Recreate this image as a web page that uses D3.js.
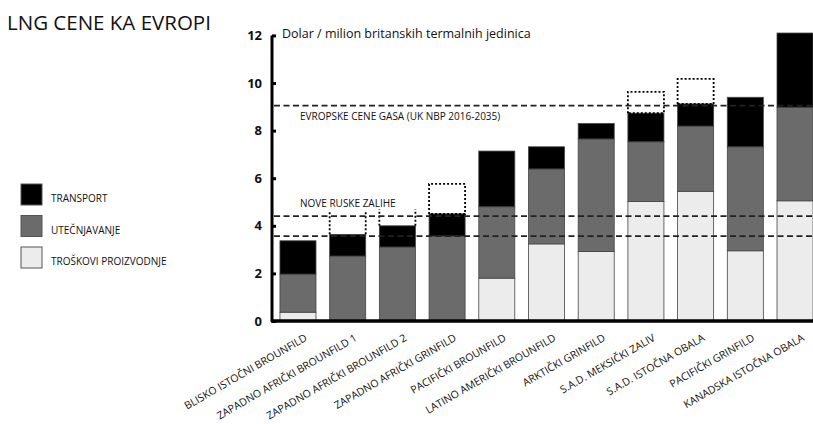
<!DOCTYPE html>
<html>
<head>
<meta charset="utf-8">
<script src="https://cdn.jsdelivr.net/npm/d3@7"></script>
<style>
  body { margin: 0; background: #fff; }
  text { font-family: "Open Sans", sans-serif; fill: #111; }
</style>
</head>
<body>
<div id="chart"></div>
<script>
var width = 813;
var height = 424;

// categories and the three cost components (dollars per MMBtu)
var categories = ["BLISKO  ISTOČNI BROUNFILD", "ZAPADNO AFRIČKI BROUNFILD 1", "ZAPADNO AFRIČKI BROUNFILD 2",
  "ZAPADNO AFRIČKI GRINFILD", "PACIFIČKI BROUNFILD", "LATINO AMERIČKI BROUNFILD", "ARKTIČKI GRINFILD",
  "S.A.D. MEKSIČKI ZALIV", "S.A.D. ISTOČNA OBALA", "PACIFIČKI GRINFILD", "KANADSKA ISTOČNA OBALA"];
var production   = [0.37, 0,    0,    0,    1.8,  3.24, 2.92, 5.02, 5.45, 2.95, 5.05];
var liquefaction = [1.6,  2.73, 3.11, 3.57, 3.0,  3.15, 4.73, 2.51, 2.74, 4.37, 3.93];
var transport    = [1.4,  0.91, 0.89, 0.93, 2.34, 0.93, 0.65, 1.2,  0.93, 2.08, 3.12];
// dotted range above some bars (upper value), and whether the box has a top edge
var rangeTop    = [null, 4.65, 4.7,  5.76, null, null, null, 9.63, 10.17, null, null];
var rangeClosed = [false, false, false, true, false, false, false, true, true, false, false];

var yTicks = [0, 2, 4, 6, 8, 10, 12];
var refLines = [
  {value: 9.05, label: "EVROPSKE CENE GASA (UK NBP 2016-2035)", labelValue: 8.45},
  {value: 4.41, label: "NOVE RUSKE ZALIHE", labelValue: 4.8},
  {value: 3.57, label: null}
];
var seriesNames = ["TRANSPORT", "UTEČNJAVANJE", "TROŠKOVI PROIZVODNJE"];
var seriesColors = {production: "#ececec", liquefaction: "#6b6b6b", transport: "#000"};

var svg = d3.select("#chart").append("svg")
  .attr("width", width)
  .attr("height", height);

var x = d3.scaleBand()
  .domain(categories)
  .range([272, 821])
  .paddingInner(0.275)
  .paddingOuter(0.16);

var y = d3.scaleLinear()
  .domain([0, 12])
  .range([321, 35.4]);

// stacked data
var rows = categories.map(function(c, i) {
  return {cat: c, production: production[i], liquefaction: liquefaction[i], transport: transport[i]};
});
var stack = d3.stack().keys(["production", "liquefaction", "transport"]);
var layers = stack(rows);

svg.append("g").selectAll("g")
  .data(layers)
  .join("g")
  .attr("fill", function(d) { return seriesColors[d.key]; })
  .selectAll("rect")
  .data(function(d) { return d.filter(function(s) { return s[1] - s[0] > 0; }); })
  .join("rect")
  .attr("x", function(d) { return x(d.data.cat); })
  .attr("y", function(d) { return y(d[1]); })
  .attr("width", x.bandwidth())
  .attr("height", function(d) { return y(d[0]) - y(d[1]); })
  .attr("stroke", "#444")
  .attr("stroke-width", 0.8);

// dotted ranges
categories.forEach(function(c, i) {
  if (rangeTop[i] == null) return;
  var total = production[i] + liquefaction[i] + transport[i];
  var x0 = x(c), x1 = x(c) + x.bandwidth();
  var pts = rangeClosed[i]
    ? [[x0, y(total)], [x0, y(rangeTop[i])], [x1, y(rangeTop[i])], [x1, y(total)]]
    : null;
  var g = svg.append("g")
    .attr("fill", "none")
    .attr("stroke", "#000")
    .attr("stroke-width", 1.8)
    .attr("stroke-dasharray", "2,2");
  if (pts) {
    g.append("path").attr("d", d3.line()(pts.concat([pts[0]])));
  } else {
    g.append("line").attr("x1", x0).attr("x2", x0).attr("y1", y(total)).attr("y2", y(rangeTop[i]));
    g.append("line").attr("x1", x1).attr("x2", x1).attr("y1", y(total)).attr("y2", y(rangeTop[i]));
  }
});

// reference lines
refLines.forEach(function(r) {
  svg.append("line")
    .attr("x1", 274).attr("x2", width)
    .attr("y1", y(r.value)).attr("y2", y(r.value))
    .attr("stroke", "#222")
    .attr("stroke-width", 1.8)
    .attr("stroke-dasharray", "6,3.5");
  if (r.label) {
    svg.append("text")
      .attr("x", 300)
      .attr("y", y(r.labelValue))
      .attr("font-size", 10)
      .text(r.label);
  }
});

// y axis
var yAxis = d3.axisLeft(y).tickValues(yTicks).tickSize(-4).tickPadding(10);
var ya = svg.append("g")
  .attr("transform", "translate(272,0)")
  .call(yAxis);
ya.select(".domain").attr("stroke-width", 3).attr("d", "M0," + y(12) + "V" + (y(0) + 1));
ya.selectAll(".tick line").attr("stroke-width", 3);
ya.selectAll(".tick text")
  .attr("font-size", 13)
  .attr("font-weight", "bold")
  .attr("font-family", "Open Sans, sans-serif")
  .attr("fill", "#111");

// x axis
var xAxis = d3.axisBottom(x).tickSize(0).tickPadding(0);
var xa = svg.append("g")
  .attr("transform", "translate(0," + y(0) + ")")
  .call(xAxis);
xa.select(".domain").attr("stroke-width", 3.5).attr("d", "M271,0H" + width);
xa.selectAll(".tick text")
  .attr("font-size", 10.5)
  .attr("font-family", "Open Sans, sans-serif")
  .attr("fill", "#111")
  .attr("text-anchor", "end")
  .attr("dy", null)
  .attr("transform", "translate(10,19) rotate(-30)");

svg.append("text")
  .attr("x", 282)
  .attr("y", 38)
  .attr("font-size", 12.5)
  .text("Dolar / milion britanskih termalnih jedinica");

svg.append("text")
  .attr("x", 7)
  .attr("y", 30)
  .attr("font-size", 20.5)
  .text("LNG CENE KA EVROPI");

// legend
var legendColors = [seriesColors.transport, seriesColors.liquefaction, seriesColors.production];
var legend = svg.append("g").selectAll("g")
  .data(seriesNames)
  .join("g")
  .attr("transform", function(d, i) { return "translate(21," + (184 + i * 31.5) + ")"; });
legend.append("rect")
  .attr("width", 21).attr("height", 21)
  .attr("fill", function(d, i) { return legendColors[i]; })
  .attr("stroke", "#555")
  .attr("stroke-width", 1);
legend.append("text")
  .attr("x", 30)
  .attr("y", 18)
  .attr("font-size", 10)
  .text(function(d) { return d; });
</script>
</body>
</html>
